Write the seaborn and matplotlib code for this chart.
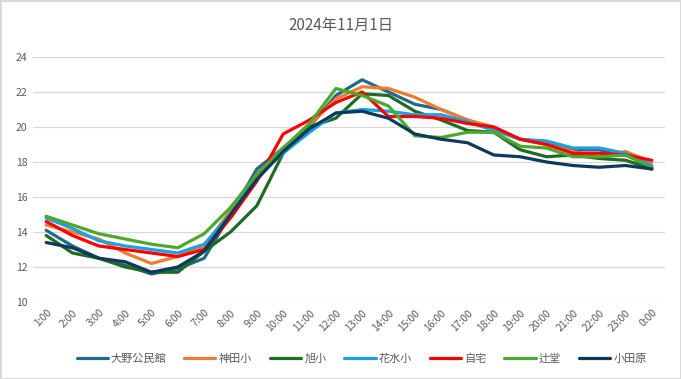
import pandas as pd
import matplotlib.pyplot as plt
import seaborn as sns

hours = [f"{h}:00" for h in range(1, 24)] + ["0:00"]

ono = [14.1, 13.2, 12.5, 12.1, 11.6, 11.9, 12.5, 15.0, 17.6, 18.8, 20.0, 21.8,
       22.7, 22.0, 21.3, 21.0, 20.4, 19.9, 19.3, 19.1, 18.7, 18.7, 18.4, 17.7]
kanda = [14.4, 14.0, 13.6, 12.8, 12.2, 12.6, 13.2, 15.2, 17.3, 18.8, 20.1, 21.6,
         22.3, 22.2, 21.7, 21.0, 20.4, 20.0, 19.3, 19.0, 18.6, 18.3, 18.6, 18.0]
asahi = [13.8, 12.8, 12.5, 12.0, 11.7, 11.7, 12.9, 14.0, 15.5, 18.5, 20.0, 20.5,
         21.9, 21.8, 20.9, 20.4, 19.8, 19.7, 18.7, 18.3, 18.4, 18.2, 18.1, 17.6]
hanamizu = [14.8, 14.2, 13.5, 13.2, 13.0, 12.8, 13.3, 15.0, 17.2, 18.5, 19.7, 20.8,
            21.0, 20.9, 20.7, 20.7, 20.3, 19.8, 19.3, 19.2, 18.8, 18.8, 18.5, 17.8]
jitaku = [14.6, 13.8, 13.2, 13.0, 12.8, 12.6, 13.0, 14.8, 16.9, 19.6, 20.4, 21.4,
          22.0, 20.6, 20.6, 20.5, 20.2, 20.0, 19.3, 19.0, 18.5, 18.5, 18.4, 18.1]
tsujido = [14.9, 14.4, 13.9, 13.6, 13.3, 13.1, 13.9, 15.4, 17.3, 18.8, 20.2, 22.2,
           21.8, 21.2, 19.5, 19.4, 19.7, 19.7, 18.9, 18.8, 18.3, 18.3, 18.4, 17.7]
odawara = [13.4, 13.1, 12.5, 12.3, 11.7, 12.0, 12.9, 15.0, 17.0, 18.6, 19.9, 20.8,
           20.9, 20.5, 19.6, 19.3, 19.1, 18.4, 18.3, 18.0, 17.8, 17.7, 17.8, 17.6]

series = {
    "大野公民館": ono,
    "神田小": kanda,
    "旭小": asahi,
    "花水小": hanamizu,
    "自宅": jitaku,
    "辻堂": tsujido,
    "小田原": odawara,
}
colors = ["#1f6a8c", "#ed7d31", "#1e6b24", "#1ba1e2", "#ff0000", "#4ea72e", "#0e3a5a"]

rows = []
for name, vals in series.items():
    for i, v in enumerate(vals):
        rows.append({"time": i, "temp": v, "site": name})
df = pd.DataFrame(rows)

sns.set_theme(style="white")
plt.rcParams["font.family"] = ["Noto Sans CJK JP", "DejaVu Sans"]

fig = plt.figure(figsize=(6.81, 3.79), dpi=100)
fig.patch.set_edgecolor("#d9d9d9")
fig.patch.set_linewidth(1.0)
ax = fig.add_axes([33 / 681, 1 - 302 / 379, (665 - 33) / 681, (302 - 57) / 379])

sns.lineplot(data=df, x="time", y="temp", hue="site", palette=colors,
             linewidth=2.3, ax=ax, legend=True)

ax.set_xlim(-0.5, 23.5)
ax.set_ylim(10, 24)
ax.set_yticks(range(10, 25, 2))
ax.set_xticks(range(24))
ax.set_xticklabels(hours, rotation=45, ha="right", rotation_mode="anchor")
ax.tick_params(axis="both", labelsize=7.5, colors="#595959", length=0, pad=4)
ax.grid(axis="y", color="#d9d9d9", linewidth=0.9)
ax.set_axisbelow(True)
for s in ax.spines.values():
    s.set_visible(False)
ax.set_xlabel("")
ax.set_ylabel("")

fig.suptitle("2024年11月1日", y=0.955, fontsize=11, color="#595959")

ax.legend(loc="upper center", bbox_to_anchor=(0.52, -0.17), ncol=7, frameon=False,
          fontsize=8, handlelength=2.8, columnspacing=1.6, handletextpad=0.3,
          labelcolor="#595959")

fig.savefig("out.png", dpi=100, edgecolor=fig.get_edgecolor())
